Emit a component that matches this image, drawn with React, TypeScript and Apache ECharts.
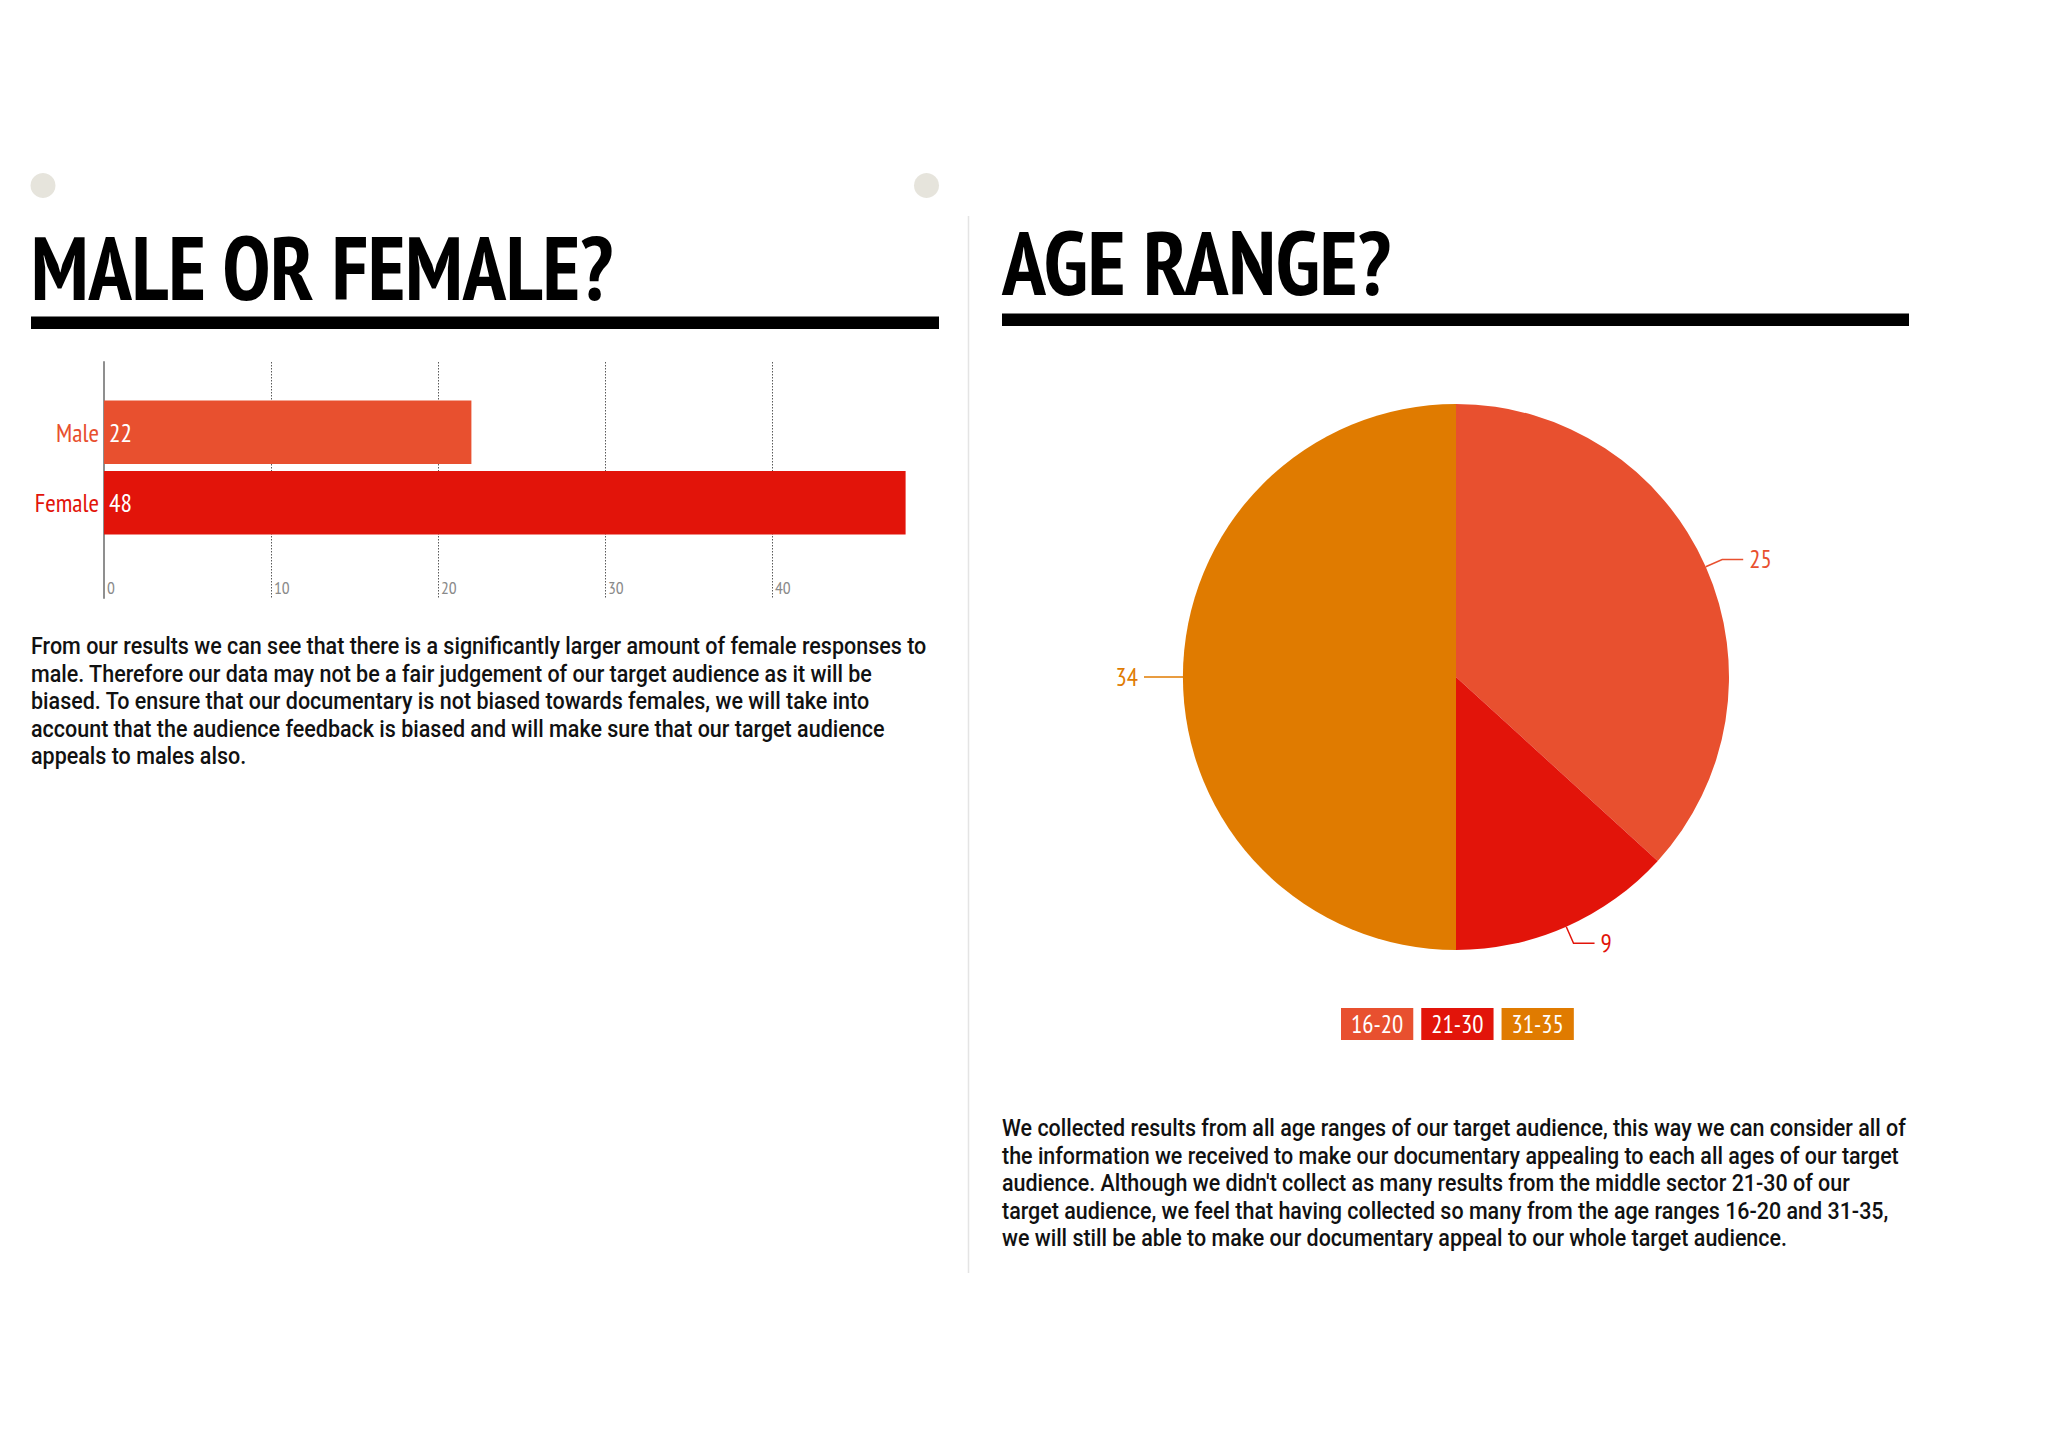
import React, { useEffect, useRef } from "react";
import * as echarts from "echarts";

// ---------- data ----------
const genderCategories = ["Male", "Female"];
const genderValues = [22, 48];
const genderColors = ["#e8502f", "#e2140a"];
const genderAxisMin = 0;
const genderAxisMax = 50;
const genderAxisInterval = 10;

const ageCategories = ["16-20", "21-30", "31-35"];
const ageValues = [25, 9, 34];
const ageColors = ["#e8502f", "#e2140a", "#e07b00"];

const titleLeft = "MALE OR FEMALE?";
const titleRight = "AGE RANGE?";
const textLeft = [
  "From our results we can see that there is a significantly larger amount of female responses to",
  "male. Therefore our data may not be a fair judgement of our target audience as it will be",
  "biased. To ensure that our documentary is not biased towards females, we will take into",
  "account that the audience feedback is biased and will make sure that our target audience",
  "appeals to males also.",
];
const textRight = [
  "We collected results from all age ranges of our target audience, this way we can consider all of",
  "the information we received to make our documentary appealing to each all ages of our target",
  "audience. Although we didn't collect as many results from the middle sector 21-30 of our",
  "target audience, we feel that having collected so many from the age ranges 16-20 and 31-35,",
  "we will still be able to make our documentary appeal to our whole target audience.",
];

// ---------- styling ----------
const NARROW = '"Liberation Sans Narrow", "PT Sans Narrow", "Arial Narrow", "DejaVu Sans Condensed", sans-serif';
const TITLE_FONT = `bold 90px ${NARROW}`;
const BODY_FONT = '500 23px Roboto, "Liberation Sans", sans-serif';

function measure(text: string, font: string): number {
  const ctx = document.createElement("canvas").getContext("2d");
  if (!ctx) return 1;
  ctx.font = font;
  return ctx.measureText(text).width;
}

function buildOption() {
  const sTitleL = 583 / measure(titleLeft, TITLE_FONT);
  const sTitleR = 389 / measure(titleRight, TITLE_FONT);
  const sBodyL = 896 / measure(textLeft[0], BODY_FONT);
  const sBodyR = 904 / measure(textRight[0], BODY_FONT);

  return {
    animation: false,
    backgroundColor: "#ffffff",
    grid: [
      { left: 104, top: 362, width: 835, height: 236 },
      { left: 104, top: 397, width: 835, height: 141 },
    ],
    xAxis: [
      {
        gridIndex: 0,
        type: "value",
        min: genderAxisMin,
        max: genderAxisMax,
        interval: genderAxisInterval,
        axisLine: { show: false },
        axisTick: { show: false },
        axisLabel: {
          inside: true,
          align: "left",
          verticalAlign: "bottom",
          margin: 2,
          padding: [0, 0, 0, 3],
          color: "#8a8a8a",
          fontSize: 17.5,
          fontFamily: NARROW,
          showMaxLabel: false,
        },
        splitLine: {
          show: true,
          lineStyle: {
            type: [1.5, 1.5],
            width: 1,
            color: ["transparent", "#5a5a5a", "#5a5a5a", "#5a5a5a", "#5a5a5a", "transparent"],
          },
        },
      },
      { gridIndex: 1, type: "value", min: genderAxisMin, max: genderAxisMax, show: false },
    ],
    yAxis: [
      {
        gridIndex: 0,
        type: "value",
        axisLine: { show: true, lineStyle: { color: "#8f8f8f", width: 2 } },
        axisLabel: { show: false },
        axisTick: { show: false },
        splitLine: { show: false },
      },
      {
        gridIndex: 1,
        type: "category",
        inverse: true,
        data: genderCategories.map((c, i) => ({ value: c, textStyle: { color: genderColors[i] } })),
        axisLine: { show: false },
        axisTick: { show: false },
        axisLabel: { fontSize: 25.5, fontFamily: NARROW, margin: 5 },
      },
    ],
    legend: {
      left: 1336,
      top: 1008,
      padding: 0,
      icon: "rect",
      itemWidth: 0,
      itemHeight: 0,
      itemGap: 3,
      selectedMode: false,
      data: ageCategories.map((c, i) => ({
        name: c,
        textStyle: { backgroundColor: ageColors[i] },
      })),
      textStyle: {
        color: "#ffffff",
        fontSize: 25,
        lineHeight: 24,
        fontFamily: NARROW,
        padding: [4, 10, 4, 10],
      },
    },
    series: [
      {
        type: "bar",
        xAxisIndex: 1,
        yAxisIndex: 1,
        barCategoryGap: "10%",
        data: genderValues.map((v, i) => ({ value: v, itemStyle: { color: genderColors[i] } })),
        label: {
          show: true,
          position: "insideLeft",
          distance: 5,
          color: "#ffffff",
          fontSize: 25.5,
          fontFamily: NARROW,
        },
        emphasis: { disabled: true },
      },
      {
        type: "pie",
        center: [1456, 677],
        radius: 273,
        startAngle: 90,
        clockwise: true,
        avoidLabelOverlap: false,
        data: ageCategories.map((c, i) => ({
          name: c,
          value: ageValues[i],
          itemStyle: { color: ageColors[i] },
          label: { color: ageColors[i] },
        })),
        label: {
          show: true,
          position: "outside",
          formatter: "{c}",
          fontSize: 25,
          fontFamily: NARROW,
          distanceToLabelLine: 6,
        },
        labelLine: { show: true, length: 18, length2: 21, lineStyle: { width: 1.5 } },
        emphasis: { disabled: true },
      },
    ],
    graphic: [
      { type: "circle", shape: { cx: 43, cy: 185.5, r: 12.5 }, style: { fill: "#e6e4dc" }, silent: true },
      { type: "circle", shape: { cx: 926.5, cy: 185.5, r: 12.5 }, style: { fill: "#e6e4dc" }, silent: true },
      {
        type: "line",
        shape: { x1: 968.5, y1: 216, x2: 968.5, y2: 1273 },
        style: { stroke: "#e4e4e4", lineWidth: 1.5 },
        silent: true,
      },
      { type: "rect", shape: { x: 31, y: 316.5, width: 908, height: 12.5 }, style: { fill: "#000000" }, silent: true },
      { type: "rect", shape: { x: 1002, y: 313.5, width: 907, height: 12.5 }, style: { fill: "#000000" }, silent: true },
      {
        type: "text",
        x: 31,
        y: 266.5,
        scaleX: sTitleL,
        style: { text: titleLeft, font: TITLE_FONT, fill: "#000000", verticalAlign: "middle", align: "left" },
        silent: true,
      },
      {
        type: "text",
        x: 1002,
        y: 262.5,
        scaleX: sTitleR,
        style: { text: titleRight, font: TITLE_FONT, fill: "#000000", verticalAlign: "middle", align: "left" },
        silent: true,
      },
      {
        type: "text",
        x: 31,
        y: 632,
        scaleX: sBodyL,
        style: {
          text: textLeft.join("\n"),
          font: BODY_FONT,
          lineHeight: 27.5,
          fill: "#111111",
          verticalAlign: "top",
          align: "left",
        },
        silent: true,
      },
      {
        type: "text",
        x: 1002,
        y: 1114,
        scaleX: sBodyR,
        style: {
          text: textRight.join("\n"),
          font: BODY_FONT,
          lineHeight: 27.5,
          fill: "#111111",
          verticalAlign: "top",
          align: "left",
        },
        silent: true,
      },
    ],
  };
}

export default function App() {
  const ref = useRef<HTMLDivElement>(null);
  useEffect(() => {
    if (!ref.current) return;
    const chart = echarts.init(ref.current, null, { renderer: "svg" });
    chart.setOption(buildOption() as any);
    return () => chart.dispose();
  }, []);
  return (
    <div
      ref={ref}
      style={{ position: "fixed", left: 0, top: 0, width: 2048, height: 1448, background: "#ffffff" }}
    />
  );
}
